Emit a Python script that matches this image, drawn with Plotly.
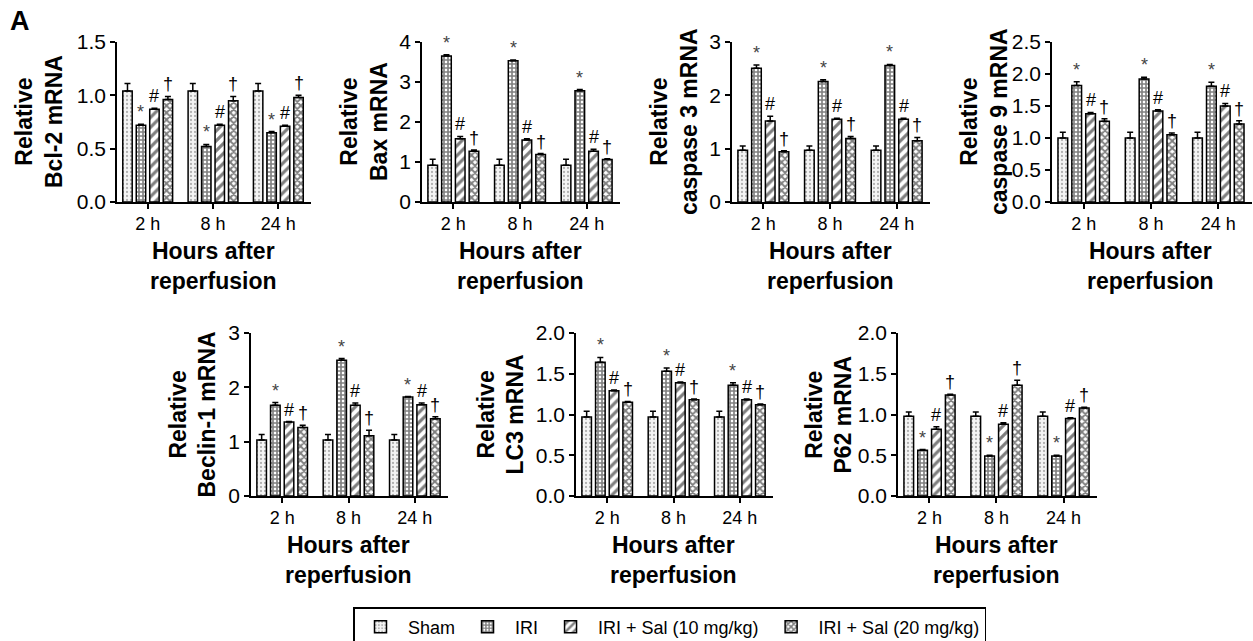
import plotly.graph_objects as go

# ---------------- data ----------------
timepoints = ["2 h", "8 h", "24 h"]
groups = ["Sham", "IRI", "IRI + Sal (10 mg/kg)", "IRI + Sal (20 mg/kg)"]
sig_marks = ["", "*", "#", "†"]

# rows: Sham, IRI, IRI+Sal10, IRI+Sal20 ; columns: 2 h, 8 h, 24 h
bcl2_means = [[1.04, 1.04, 1.04], [0.72, 0.52, 0.65], [0.87, 0.72, 0.71], [0.96, 0.95, 0.98]]
bcl2_errs = [[0.07, 0.07, 0.07], [0.01, 0.02, 0.01], [0.01, 0.01, 0.01], [0.03, 0.04, 0.02]]

bax_means = [[0.92, 0.92, 0.92], [3.65, 3.53, 2.78], [1.58, 1.55, 1.27], [1.27, 1.19, 1.06]]
bax_errs = [[0.15, 0.15, 0.15], [0.03, 0.02, 0.03], [0.06, 0.03, 0.05], [0.03, 0.02, 0.02]]

casp3_means = [[0.97, 0.97, 0.97], [2.51, 2.26, 2.56], [1.52, 1.55, 1.55], [0.94, 1.19, 1.15]]
casp3_errs = [[0.08, 0.08, 0.08], [0.06, 0.03, 0.02], [0.09, 0.02, 0.02], [0.02, 0.04, 0.06]]

casp9_means = [[1.00, 1.00, 1.00], [1.82, 1.92, 1.81], [1.38, 1.42, 1.50], [1.26, 1.05, 1.22]]
casp9_errs = [[0.09, 0.09, 0.09], [0.06, 0.03, 0.06], [0.02, 0.02, 0.04], [0.04, 0.03, 0.05]]

beclin_means = [[1.03, 1.03, 1.03], [1.67, 2.50, 1.82], [1.36, 1.67, 1.68], [1.26, 1.11, 1.42]]
beclin_errs = [[0.10, 0.10, 0.10], [0.05, 0.03, 0.01], [0.01, 0.04, 0.03], [0.04, 0.10, 0.04]]

lc3_means = [[0.97, 0.97, 0.97], [1.64, 1.53, 1.36], [1.29, 1.39, 1.18], [1.15, 1.18, 1.12]]
lc3_errs = [[0.07, 0.07, 0.07], [0.06, 0.04, 0.03], [0.01, 0.01, 0.01], [0.01, 0.01, 0.01]]

p62_means = [[0.98, 0.98, 0.98], [0.56, 0.49, 0.49], [0.82, 0.88, 0.95], [1.24, 1.36, 1.08]]
p62_errs = [[0.05, 0.05, 0.05], [0.01, 0.01, 0.01], [0.03, 0.02, 0.01], [0.01, 0.06, 0.01]]

# ---------------- layout / style ----------------
W, H = 1253, 641
FONT = "Liberation Sans, Arial, sans-serif"
BARGAP = 0.175
SLOT = (1 - BARGAP) / 4

panels = [
    dict(title="Relative<br>Bcl-2 mRNA", means=bcl2_means, errs=bcl2_errs, ymax=1.5, dtick=0.5, fmt=".1f",
         px=(117, 311), py=(42, 202), tx=39),
    dict(title="Relative<br>Bax mRNA", means=bax_means, errs=bax_errs, ymax=4, dtick=1, fmt="d",
         px=(422, 620), py=(42, 202), tx=364),
    dict(title="Relative<br>caspase 3 mRNA", means=casp3_means, errs=casp3_errs, ymax=3, dtick=1, fmt="d",
         px=(732, 930), py=(42, 202), tx=674),
    dict(title="Relative<br>caspase 9 mRNA", means=casp9_means, errs=casp9_errs, ymax=2.5, dtick=0.5, fmt=".1f",
         px=(1052, 1252), py=(42, 202), tx=984),
    dict(title="Relative<br>Beclin-1 mRNA", means=beclin_means, errs=beclin_errs, ymax=3, dtick=1, fmt="d",
         px=(251, 448), py=(333, 496), tx=192),
    dict(title="Relative<br>LC3 mRNA", means=lc3_means, errs=lc3_errs, ymax=2.0, dtick=0.5, fmt=".1f",
         px=(576, 773), py=(333, 496), tx=500),
    dict(title="Relative<br>P62 mRNA", means=p62_means, errs=p62_errs, ymax=2.0, dtick=0.5, fmt=".1f",
         px=(898, 1097), py=(333, 496), tx=828),
]

patterns = [
    dict(shape=".", fgcolor="#6e6e6e", bgcolor="#f4f4f4", size=4, solidity=0.25),
    dict(shape="+", fgcolor="black", bgcolor="white", size=4, solidity=0.65),
    dict(shape="/", fgcolor="black", bgcolor="white", size=7, solidity=0.45),
    dict(shape="x", fgcolor="black", bgcolor="white", size=5, solidity=0.62),
]
mark_colors = ["black", "#444444", "black", "black"]

fig = go.Figure()
annotations = []
layout_axes = {}

for j, p in enumerate(panels):
    sfx = "" if j == 0 else str(j + 1)
    xid, yid = "x" + sfx, "y" + sfx
    for k, g in enumerate(groups):
        fig.add_trace(go.Bar(
            x=[0, 1, 2], y=p["means"][k], name=g, legendgroup=g, showlegend=(j == 0),
            xaxis=xid, yaxis=yid,
            marker=dict(color="white", line=dict(color="black", width=1.5), pattern=patterns[k]),
            error_y=dict(type="data", array=p["errs"][k], arrayminus=[0, 0, 0], symmetric=False,
                         color="black", thickness=1.5, width=3),
            hoverinfo="skip",
        ))
        if sig_marks[k]:
            for i in range(3):
                annotations.append(dict(
                    x=i + (k - 1.5) * SLOT, y=p["means"][k][i] + p["errs"][k][i],
                    xref=xid, yref=yid, text=sig_marks[k], showarrow=False,
                    yanchor="bottom", xanchor="center", yshift=0,
                    font=dict(family=FONT, size=18, color=mark_colors[k]),
                ))
    x0, x1 = p["px"]
    y0, y1 = p["py"]
    layout_axes["xaxis" + sfx] = dict(
        domain=[x0 / W, x1 / W], anchor=yid, range=[-0.47, 2.5],
        tickvals=[0, 1, 2], ticktext=timepoints, showline=True, linecolor="black", linewidth=1.5,
        ticks="outside", ticklen=5, tickwidth=1.5, tickcolor="black", showgrid=False, zeroline=False,
        tickfont=dict(family=FONT, size=18, color="black"), fixedrange=True, automargin=False,
    )
    layout_axes["yaxis" + sfx] = dict(
        domain=[1 - y1 / H, 1 - y0 / H], anchor=xid, range=[0, p["ymax"]], dtick=p["dtick"], tick0=0,
        tickformat=p["fmt"], showline=True, linecolor="black", linewidth=1.5,
        ticks="outside", ticklen=5, tickwidth=1.5, tickcolor="black", showgrid=False, zeroline=False,
        tickfont=dict(family=FONT, size=21, color="black"), fixedrange=True, automargin=False,
    )
    # y title
    annotations.append(dict(
        x=p["tx"] / W, y=1 - (y0 + y1) / 2 / H, xref="paper", yref="paper", text="<b>" + p["title"] + "</b>",
        textangle=-90, showarrow=False, xanchor="center", yanchor="middle",
        font=dict(family=FONT, size=23, color="black"),
    ))
    # x title
    annotations.append(dict(
        x=1, y=1 - (y1 + 64) / H, xref=xid, yref="paper", text="<b>Hours after<br>reperfusion</b>",
        showarrow=False, xanchor="center", yanchor="middle",
        font=dict(family=FONT, size=23, color="black"),
    ))

annotations.append(dict(
    x=8 / W, y=1 - 21 / H, xref="paper", yref="paper", text="<b>A</b>", showarrow=False,
    xanchor="left", yanchor="middle", font=dict(family=FONT, size=27, color="black"),
))

fig.update_layout(
    width=W, height=H, margin=dict(l=0, r=0, t=0, b=0, autoexpand=False),
    paper_bgcolor="white", plot_bgcolor="white",
    barmode="group", bargap=BARGAP, bargroupgap=0.3,
    font=dict(family=FONT, color="black"),
    annotations=annotations,
    legend=dict(orientation="h", x=353 / W, y=1 - 607 / H, xanchor="left", yanchor="top",
                bordercolor="black", borderwidth=1.5, font=dict(family=FONT, size=18, color="black"),
                bgcolor="white", itemclick=False, itemdoubleclick=False, itemwidth=45),
    showlegend=True,
    **layout_axes,
)

fig.write_html("out.html", config={"displayModeBar": False},
               post_script="document.body.style.margin='0';document.documentElement.style.overflow='hidden';")
